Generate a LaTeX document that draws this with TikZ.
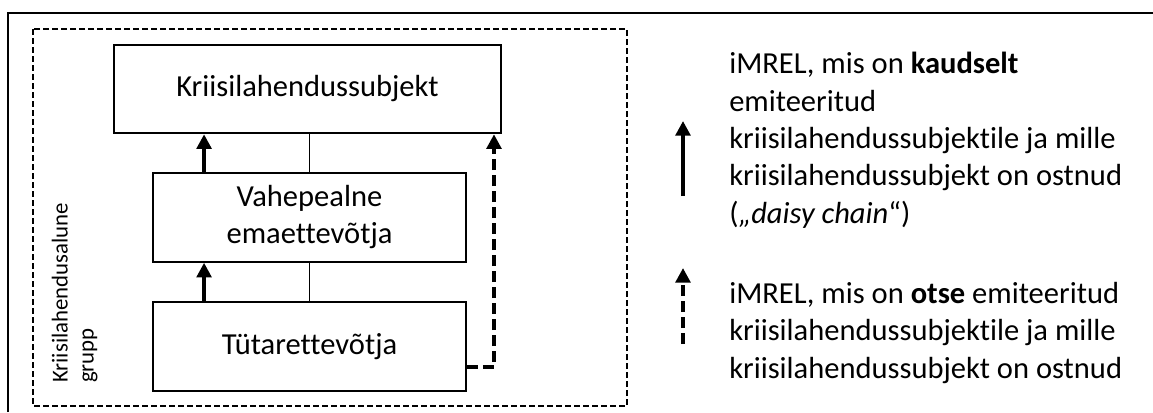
\documentclass[tikz,border=0pt]{standalone}
\usepackage{fontspec}
\setmainfont{Carlito}[Ligatures={NoCommon,NoContextual}]
\usetikzlibrary{arrows.meta}

\begin{document}
\begin{tikzpicture}[x=0.75pt,y=-0.75pt,
    entity/.style={rectangle,draw,line width=1.4pt,minimum height=66.5pt,inner sep=0pt,align=center,font=\fontsize{22.9}{27.75}\selectfont},
    chain/.style={-{Triangle[width=11pt,length=11pt]},line width=3pt},
    direct/.style={chain,dash pattern=on 8pt off 4pt},
    legendtext/.style={anchor=north west,inner sep=0pt,align=left,font=\fontsize{22.9}{28}\selectfont}]
      \useasboundingbox (0,0) rectangle (1153,412);
      \draw [line width=1.5pt] (8,412) -- (8,12.5) -- (1153,12.5);
      \draw [line width=1pt,dash pattern=on 4.5pt off 2.25pt] (33,29) rectangle (627,406);
      \node (grp) at (51.5,383) [rotate=90,anchor=north west,inner sep=0pt,align=left,font=\fontsize{17.1}{19.5}\selectfont] {Kriisilahendusalune\\grupp};
      \node (rs) at (307.5,89) [entity,minimum width=290pt] {Kriisilahendussubjekt};
      \node (mid) at (309.5,217.5) [entity,minimum width=234.75pt] {Vahepealne\\emaettevõtja};
      \node (sub) at (309.5,346.5) [entity,minimum width=234.75pt] {Tütarettevõtja};
      \draw [line width=1pt] (mid.north) to (mid.north |- rs.south);
      \draw [line width=1pt] (sub.north) to (sub.north |- mid.south);
      \draw [chain] ([xshift=39pt]mid.north west) to ([xshift=39pt]mid.north west |- rs.south);
      \draw [chain] ([xshift=39pt]sub.north west) to ([xshift=39pt]sub.north west |- mid.south);
      \coordinate (turn) at (494,367);
      \draw [direct] (sub.east |- turn) -- (turn) -- (turn |- rs.south);
      % legend
      \coordinate (ind0) at (683,196);
      \coordinate (ind1) at (683,121);
      \coordinate (dir0) at (683,344);
      \coordinate (dir1) at (683,268);
      \draw [chain] (ind0) to (ind1);
      \draw [direct] (dir0) to (dir1);
      \node (indtxt) at (729,52) [legendtext] {iMREL, mis on \textbf{kaudselt}\\emiteeritud\\kriisilahendussubjektile ja mille\\kriisilahendussubjekt on ostnud\\(\emph{„daisy chain}“)};
      \node (dirtxt) at (729,282) [legendtext] {iMREL, mis on \textbf{otse} emiteeritud\\kriisilahendussubjektile ja mille\\kriisilahendussubjekt on ostnud};
    \end{tikzpicture}
\end{document}
